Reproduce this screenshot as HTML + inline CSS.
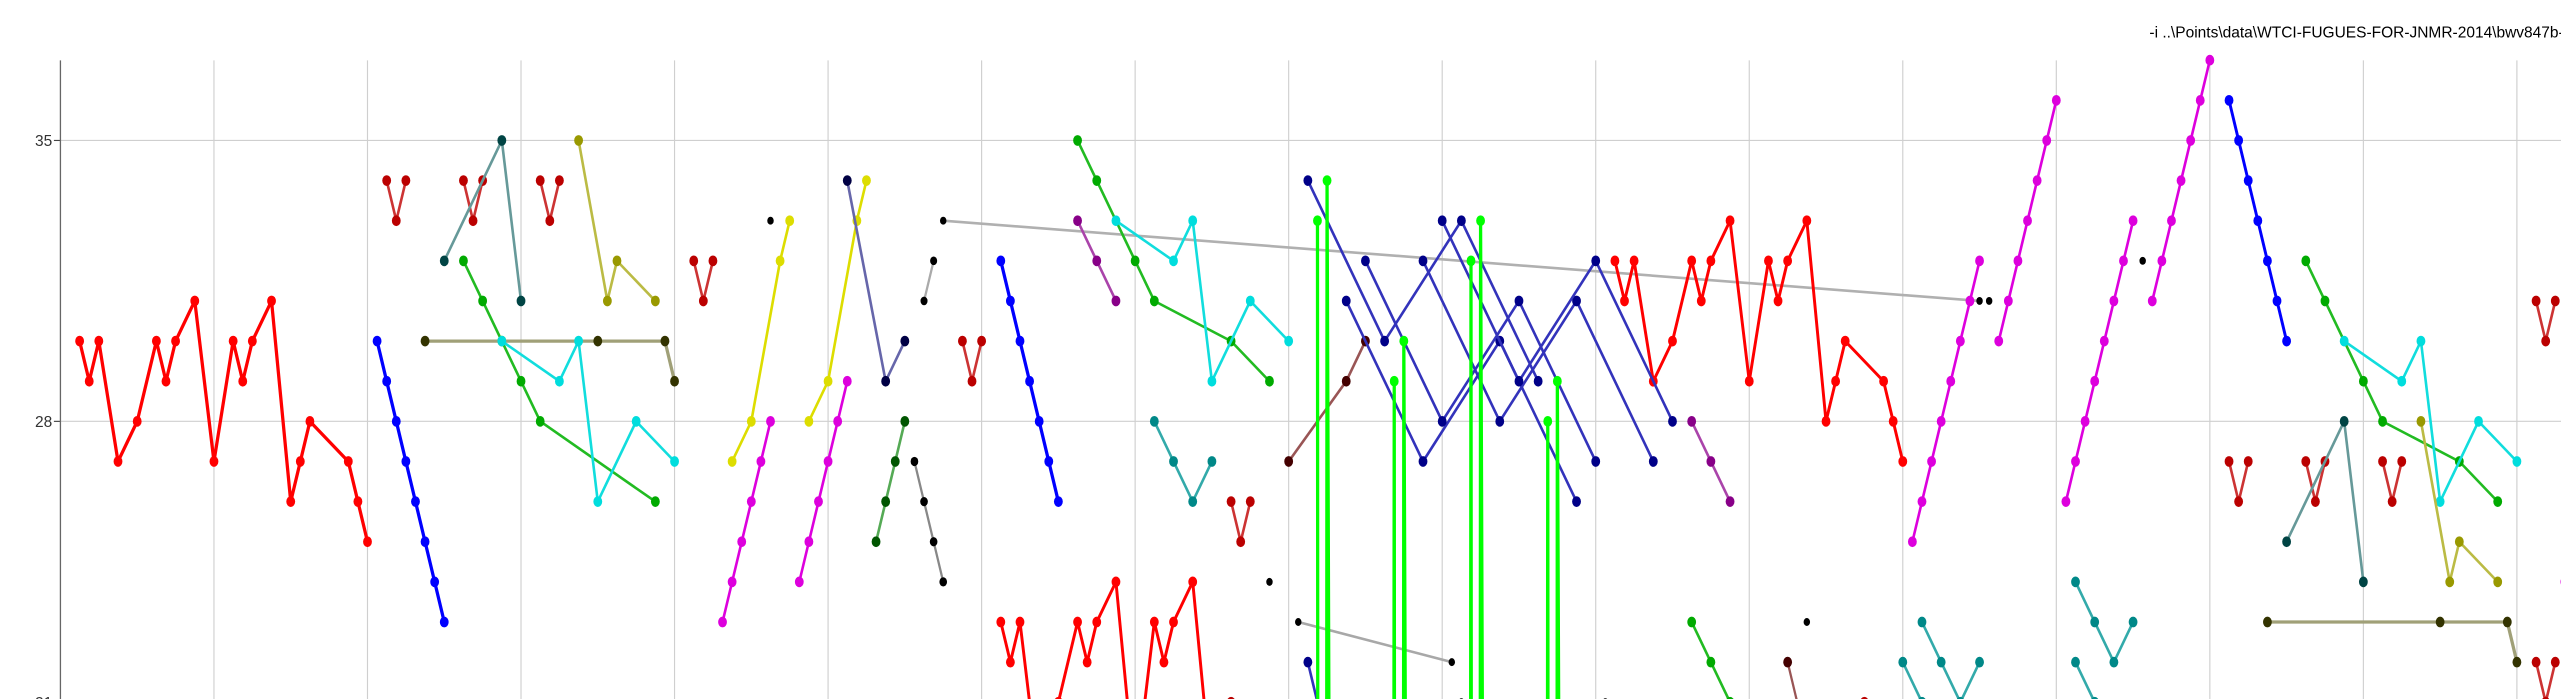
<!DOCTYPE html>
<html><head><meta charset="utf-8"><style>
html,body{margin:0;padding:0;background:#fff;overflow:hidden;width:2561px;height:699px}
svg{display:block;position:absolute;left:0;top:0}
</style></head><body>
<svg id="chart" width="2561" height="699" viewBox="0 0 1568 428" preserveAspectRatio="none" xmlns="http://www.w3.org/2000/svg">
<defs><clipPath id="plotclip"><rect x="37" y="0" width="1531" height="428"/></clipPath></defs>
<text x="1316" y="23" font-family="Liberation Sans, sans-serif" font-size="9.5" fill="#000">-i ..\Points\data\WTCI-FUGUES-FOR-JNMR-2014\bwv847b-done.opnd</text>
<g id="grid"></g>
<g id="axis"></g>
<g id="series" clip-path="url(#plotclip)"></g>
</svg>
<script>
// ---- data: [onset in 16ths, pitch] ----
const yTicks=[35,28,21];
const red1=[[2,30],[3,29],[4,30],[6,27],[8,28],[10,30],[11,29],[12,30],[14,31],[16,27],[18,30],[19,29],[20,30],[22,31],[24,26],[25,27],[26,28],[30,27],[31,26],[32,25]];
const blue1=[[33,30],[34,29],[35,28],[36,27],[37,26],[38,25],[39,24],[40,23]];
const dredV1=[[34,34],[35,33],[36,34]];
const dredV2=[[42,34],[43,33],[44,34]];
const dredV3=[[50,34],[51,33],[52,34]];
const dredV4=[[66,32],[67,31],[68,32]];
const dredV5=[[94,30],[95,29],[96,30]];
const dredV6=[[122,26],[123,25],[124,26]];
const dredV7=[[226,27],[227,26],[228,27]];
const dredV8=[[234,27],[235,26],[236,27]];
const dredV9=[[242,27],[243,26],[244,27]];
const dredV10=[[258,31],[259,30],[260,31]];
const dredV11=[[258,22],[259,21],[260,22]];
const tealGray1=[[40,32],[46,35],[48,31]];
const tealGray2=[[232,25],[238,28],[240,24]];
const green1=[[42,32],[44,31],[46,30],[48,29],[50,28],[62,26]];
const green2=[[106,35],[108,34],[112,32],[114,31],[122,30],[126,29]];
const green3=[[234,32],[236,31],[240,29],[242,28],[250,27],[254,26]];
const green4=[[170,23],[172,22],[174,21]];
const oliveH1=[[38,30],[56,30],[63,30],[64,29]];
const oliveH2=[[230,23],[248,23],[255,23],[256,22]];
const cyan1=[[46,30],[52,29],[54,30],[56,26],[60,28],[64,27]];
const cyan2=[[110,33],[116,32],[118,33],[120,29],[124,31],[128,30]];
const cyan3=[[238,30],[244,29],[246,30],[248,26],[252,28],[256,27]];
const olive1=[[54,35],[57,31],[58,32],[62,31]];
const olive2=[[246,28],[249,24],[250,25],[254,24]];
const yellow1=[[70,27],[72,28],[75,32],[76,33]];
const yellow2=[[78,28],[80,29],[83,33],[84,34]];
const mag1=[[69,23],[70,24],[71,25],[72,26],[73,27],[74,28]];
const mag2=[[77,24],[78,25],[79,26],[80,27],[81,28],[82,29]];
const mag3=[[193,25],[194,26],[195,27],[196,28],[197,29],[198,30],[199,31],[200,32]];
const mag4=[[202,30],[203,31],[204,32],[205,33],[206,34],[207,35],[208,36]];
const mag5=[[209,26],[210,27],[211,28],[212,29],[213,30],[214,31],[215,32],[216,33]];
const mag6=[[218,31],[219,32],[220,33],[221,34],[222,35],[223,36],[224,37]];
const mag7=[[261,24],[262,25]];
const navyPurple=[[82,34],[86,29],[88,30]];
const darkGreen=[[85,25],[86,26],[87,27],[88,28]];
const grayBlack1=[[89,27],[90,26],[91,25],[92,24]];
const grayBlack2=[[90,31],[91,32]];
const grayLong=[[92,33],[200,31]];
const grayLow=[[129,23],[145,22]];
const blue2=[[98,32],[99,31],[100,30],[101,29],[102,28],[103,27],[104,26]];
const blue3=[[226,36],[227,35],[228,34],[229,33],[230,32],[231,31],[232,30]];
const purple1=[[106,33],[108,32],[110,31]];
const purple2=[[170,28],[172,27],[174,26]];
const teal1=[[114,28],[116,27],[118,26],[120,27]];
const teal2=[[192,22],[194,21]];
const teal3=[[194,23],[196,22],[198,21],[200,22]];
const teal4=[[210,24],[212,23],[214,22],[216,23]];
const teal5=[[210,22],[212,21]];
const brown1=[[128,27],[134,29],[136,30]];
const brown2=[[180,22],[182,20]];
const navy1=[[130,34],[138,30],[146,33],[154,29]];
const navy2=[[134,31],[142,27],[150,30],[158,26]];
const navy3=[[136,32],[144,28],[152,31],[160,27]];
const navy4=[[142,32],[150,28],[158,31],[166,27]];
const navy5=[[144,33],[152,29],[160,32],[168,28]];
const navyLow=[[130,22],[132,20]];
const lime=[[131,33],[131.08,0],[131.92,0],[132,34],[132.5,0],[138.9,0],[139,29],[139.08,0],[139.92,0],[140,30],[140.5,0],[146.9,0],[147,32],[147.08,0],[147.92,0],[148,33],[148.5,0],[154.9,0],[155,28],[155.08,0],[155.92,0],[156,29],[156.5,0]];
const limeDots=[[131,33],[132,34],[139,29],[140,30],[147,32],[148,33],[155,28],[156,29]];
const red2=[[162,32],[163,31],[164,32],[166,29],[168,30],[170,32],[171,31],[172,32],[174,33],[176,29],[178,32],[179,31],[180,32],[182,33],[184,28],[185,29],[186,30],[190,29],[191,28],[192,27]];
const redLow=[[98,23],[99,22],[100,23],[102,19],[104,21],[106,23],[107,22],[108,23],[110,24],[112,19],[114,23],[115,22],[116,23],[118,24],[120,19]];
const dredLow=[[122,21],[186,20],[188,21],[189,20]];
const blackDots=[[74,33],[126,24],[201,31],[217,32],[182,23],[146,21],[161,21]];

// ---- scales ----
const X0=37, XU=5.875;
function xs(t){return X0+t*XU;}
function ys(p){return 258-(p-28)*24.571;}
const NS='http://www.w3.org/2000/svg';
const grid=document.getElementById('grid');
const axis=document.getElementById('axis');
const layer=document.getElementById('series');

for(let i=1;i<=16;i++){
  const l=document.createElementNS(NS,'line');
  
  
  const x=xs(i*16);
  l.setAttribute('x1',x);l.setAttribute('x2',x);l.setAttribute('y1',37);l.setAttribute('y2',428);
  l.setAttribute('stroke','#cfcfcf');l.setAttribute('stroke-width','0.7');
  grid.appendChild(l);
}
yTicks.forEach(v=>{
  const y=ys(v);
  const l=document.createElementNS(NS,'line');
  
  
  l.setAttribute('x1',37);l.setAttribute('x2',1568);l.setAttribute('y1',y);l.setAttribute('y2',y);
  l.setAttribute('stroke','#cfcfcf');l.setAttribute('stroke-width','0.7');
  grid.appendChild(l);
  const tk=document.createElementNS(NS,'line');
  
  
  tk.setAttribute('x1',33);tk.setAttribute('x2',37);tk.setAttribute('y1',y);tk.setAttribute('y2',y);
  tk.setAttribute('stroke','#444');tk.setAttribute('stroke-width','0.7');
  axis.appendChild(tk);
  const t=document.createElementNS(NS,'text');
  
  
  t.setAttribute('x',32);t.setAttribute('y',y+3.5);t.setAttribute('text-anchor','end');
  t.setAttribute('font-family','Liberation Sans, sans-serif');t.setAttribute('font-size','9.5');t.setAttribute('fill','#333');
  t.textContent=v;
  axis.appendChild(t);
});
const ax=document.createElementNS(NS,'line');


ax.setAttribute('x1',37);ax.setAttribute('x2',37);ax.setAttribute('y1',37);ax.setAttribute('y2',428);
ax.setAttribute('stroke','#666');ax.setAttribute('stroke-width','0.8');
axis.appendChild(ax);

function draw(data,line,dot,w,r,name,noDots){
  const g=document.createElementNS(NS,'g');
  
  
  if(data.length>1){
    const pl=document.createElementNS(NS,'polyline');
    
    
    pl.setAttribute('points',data.map(d=>xs(d[0]).toFixed(2)+','+ys(d[1]).toFixed(2)).join(' '));
    pl.setAttribute('fill','none');pl.setAttribute('stroke',line);pl.setAttribute('stroke-width',w);
    pl.setAttribute('stroke-linejoin','round');
    g.appendChild(pl);
  }
  if(!noDots){
    data.forEach(d=>{
      const c=document.createElementNS(NS,'ellipse');
      
      
      c.setAttribute('cx',xs(d[0]));c.setAttribute('cy',ys(d[1]));
      c.setAttribute('rx',r*0.9);c.setAttribute('ry',r*1.1);c.setAttribute('fill',dot);
      g.appendChild(c);
    });
  }
  layer.appendChild(g);
}
draw(grayLong,'#b0b0b0','#000',1.6,2.2,'gray-long-series');
draw(grayLow,'#a8a8a8','#000',1.6,2.2,'gray-low-series');
draw(red1,'#f00','#f00',2,3,'red-series-1');
draw(red2,'#f00','#f00',1.8,3,'red-series-2');
draw(redLow,'#f00','#f00',1.8,3,'red-low-series');
draw(blue1,'#00f','#00f',2,3,'blue-series-1');
draw(blue2,'#00f','#00f',2,3,'blue-series-2');
draw(blue3,'#00f','#00f',1.8,3,'blue-series-3');
[dredV1,dredV2,dredV3,dredV4,dredV5,dredV6,dredV7,dredV8,dredV9,dredV10,dredV11].forEach(d=>draw(d,'#c33','#b00',1.6,3,'darkred-motif'));
draw(dredLow,'#c33','#b00',1.4,3,'darkred-low-series');
draw(tealGray1,'#699','#044',1.6,3,'teal-gray-series-1');
draw(tealGray2,'#699','#044',1.6,3,'teal-gray-series-2');
draw(green1,'#2b2','#0a0',1.6,3,'green-series-1');
draw(green2,'#2b2','#0a0',1.6,3,'green-series-2');
draw(green3,'#2b2','#0a0',1.6,3,'green-series-3');
draw(green4,'#2b2','#0a0',1.6,3,'green-series-4');
draw(oliveH1,'#a0a078','#330',2,3,'olive-hold-series-1');
draw(oliveH2,'#a0a078','#330',2,3,'olive-hold-series-2');
draw(cyan1,'#1dd','#0dd',1.6,3,'cyan-series-1');
draw(cyan2,'#1dd','#0dd',1.6,3,'cyan-series-2');
draw(cyan3,'#1dd','#0dd',1.6,3,'cyan-series-3');
draw(olive1,'#bb4','#990',1.6,3,'olive-series-1');
draw(olive2,'#bb4','#990',1.6,3,'olive-series-2');
draw(yellow1,'#dd0','#dd0',1.6,3,'yellow-series-1');
draw(yellow2,'#dd0','#dd0',1.6,3,'yellow-series-2');
[mag1,mag2,mag3,mag4,mag5,mag6,mag7].forEach(d=>draw(d,'#d0d','#d0d',1.6,3,'magenta-series'));
draw(navyPurple,'#66a','#004',1.6,3,'navy-purple-series');
draw(darkGreen,'#5a5','#050',1.6,3,'dark-green-series');
draw(grayBlack1,'#888','#000',1.4,2.6,'gray-black-series-1');
draw(grayBlack2,'#aaa','#000',1.4,2.4,'gray-black-series-2');
draw(purple1,'#a4a','#808',1.6,3,'purple-series-1');
draw(purple2,'#a4a','#808',1.6,3,'purple-series-2');
[teal1,teal2,teal3,teal4,teal5].forEach(d=>draw(d,'#3aa','#088',1.6,3,'teal-series'));
draw(brown1,'#955','#400',1.6,3,'brown-series-1');
draw(brown2,'#955','#400',1.4,3,'brown-series-2');
[navy1,navy2,navy3,navy4,navy5,navyLow].forEach(d=>draw(d,'#33b','#008',1.6,3,'navy-series'));
draw(lime,'#0f0','#0f0',2,3,'lime-series',true);
draw(limeDots,'none','#0f0',0,3,'lime-points');
draw(blackDots,'none','#000',0,2.2,'black-single-notes');
</script>
</body></html>
